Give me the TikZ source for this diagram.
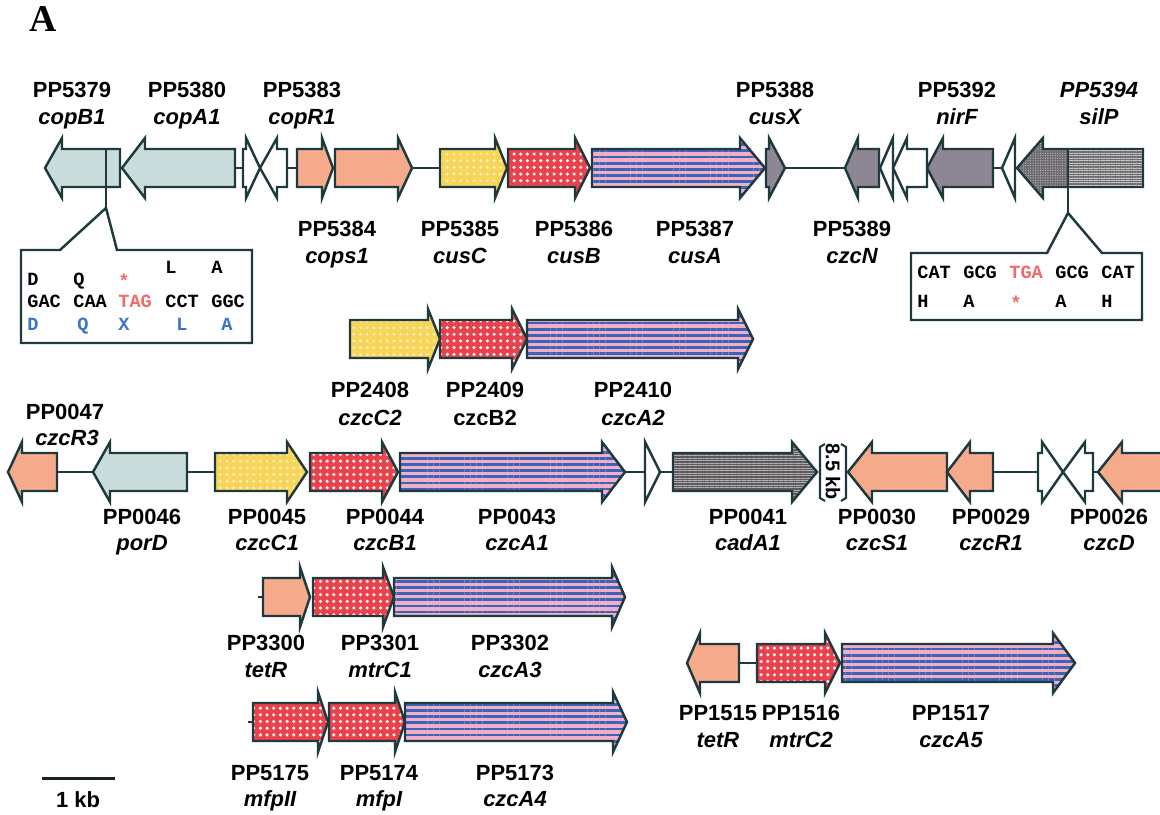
\documentclass[tikz,border=0pt]{standalone}
\usepackage{fontspec}
\setmainfont{Liberation Sans}
\newfontfamily\monof{Liberation Mono}
\newfontfamily\seriff{Liberation Serif}
\usetikzlibrary{patterns.meta}
\definecolor{edgec}{HTML}{1E3A3E}
\definecolor{gred}{HTML}{E8424C}
\definecolor{gyel}{HTML}{F7D55A}
\definecolor{gblue}{HTML}{3A64B6}
\definecolor{gpink}{HTML}{F2AEC6}
\definecolor{glb}{HTML}{C9DCDC}
\definecolor{gsal}{HTML}{F5AA8C}
\definecolor{ggray}{HTML}{8C8792}
\definecolor{gdark}{HTML}{5E5A5E}
\definecolor{redtxt}{HTML}{F06A6A}
\definecolor{bluetxt}{HTML}{3C72C8}
\tikzset{
  genebox/.style={draw=edgec, line width=1.4pt, line join=miter},
  lb/.style={genebox, fill=glb},
  sal/.style={genebox, fill=gsal},
  wht/.style={genebox, fill=white},
  gry/.style={genebox, fill=ggray},
  yel/.style={genebox, preaction={fill=gyel}, pattern={Dots[radius=0.9pt,distance=3.8pt]}, pattern color=white!60!gyel},
  red/.style={genebox, preaction={fill=gred}, pattern={Dots[radius=1.0pt,distance=3.8pt]}, pattern color=white!92!gred},
  blu/.style={genebox, preaction={fill=gpink}, pattern={Lines[angle=0,distance=3.5pt,line width=1.6pt]}, pattern color=gblue},
  hatch/.style={genebox, preaction={fill=gdark}, pattern={Lines[angle=0,distance=1.4pt,line width=0.5pt]}, pattern color=gray!60},
  dotty/.style={genebox, preaction={fill=gdark!90}, pattern={Dots[radius=0.35pt,distance=1.4pt]}, pattern color=gray!50},
  link/.style={draw=edgec, line width=1.1pt},
  idl/.style={font=\fontsize{12.5}{15}\selectfont\bfseries, anchor=base, inner sep=0pt},
  nml/.style={font=\fontsize{12.5}{15}\selectfont\bfseries\itshape, anchor=base, inner sep=0pt},
  cod/.style={font=\monof\fontsize{10.6}{12}\selectfont\bfseries, anchor=base west, inner sep=0pt},
  box/.style={draw=edgec, line width=1.4pt, fill=white, line join=miter}
}
% #1 style, #2 tail x, #3 head base x, #4 tip x, #5 centre y
\newcommand\gene[5]{\path[#1] (#2,#5-19) -- (#3,#5-19) -- (#3,#5-30) -- (#4,#5) -- (#3,#5+30) -- (#3,#5+19) -- (#2,#5+19) -- cycle;}
\begin{document}
\begin{tikzpicture}[x=0.02cm,y=-0.02cm]
\useasboundingbox (0,0) rectangle (1160,815);
\clip (0,0) rectangle (1160,815);
\fill[white] (0,0) rectangle (1160,815);

\node[font=\seriff\fontsize{21.5}{24}\selectfont\bfseries, inner sep=0pt] (panel) at (43,19) {A};

% ---------------- row 1 ----------------
\draw[link] (235,168) -- (245,168) (285,168) -- (297,168) (410,168) -- (440,168) (783,168) -- (847,168) (991,168) -- (1003,168);
\gene{lb}{120}{62}{45}{168}
\gene{lb}{235}{145}{122}{168}
\gene{wht}{243}{246}{260}{168}
\gene{wht}{287}{277}{260}{168}
\gene{sal}{297}{322}{333}{168}
\gene{sal}{335}{398}{412}{168}
\gene{yel}{440}{495}{507}{168}
\gene{red}{508}{575}{590}{168}
\gene{blu}{592}{740}{765}{168}
\gene{gry}{766}{769}{785}{168}
\gene{gry}{879}{858}{845}{168}
\gene{wht}{893}{893}{880}{168}
\gene{wht}{927}{907}{893}{168}
\gene{gry}{993}{943}{927}{168}
\gene{wht}{1015}{1015}{1002}{168}
\gene{dotty}{1143}{1043}{1017}{168}
\path[pattern={Lines[angle=0,distance=1.4pt,line width=0.45pt]}, pattern color=gray!45] (1068,149) rectangle (1143,187);
\draw[genebox] (1143,149) -- (1043,149) (1143,187) -- (1043,187) (1143,149) -- (1143,187);

% left inset
\draw[link, line width=1.4pt] (106,149) -- (106,208);
\path[box] (21,250) -- (60,250) -- (106,208) -- (117,250) -- (252,250) -- (252,343) -- (21,343) -- cycle;
\node[cod] (l1) at (165,273) {L};
\node[cod] (l2) at (211,273) {A};
\node[cod] (d1) at (27,285) {D};
\node[cod] (q1) at (73,285) {Q};
\node[cod, text=redtxt, anchor=base] (s1) at (124,287) {*};
\node[cod] (c1) at (27,307) {GAC};
\node[cod] (c2) at (73,307) {CAA};
\node[cod, text=redtxt] (c3) at (118,307) {TAG};
\node[cod] (c4) at (165,307) {CCT};
\node[cod] (c5) at (211,307) {GGC};
\node[cod, text=bluetxt] (b1) at (27,330) {D};
\node[cod, text=bluetxt] (b2) at (77,330) {Q};
\node[cod, text=bluetxt, anchor=base] (b3) at (124,330) {X};
\node[cod, text=bluetxt, anchor=base] (b4) at (182,330) {L};
\node[cod, text=bluetxt, anchor=base] (b5) at (227,330) {A};

% right inset
\draw[link, line width=1.4pt] (1068,149) -- (1068,213);
\path[box] (911,253) -- (1047,253) -- (1068,213) -- (1102,253) -- (1142,253) -- (1142,320) -- (911,320) -- cycle;
\node[cod] (r1) at (917,278) {CAT};
\node[cod] (r2) at (963,278) {GCG};
\node[cod, text=redtxt] (r3) at (1009,278) {TGA};
\node[cod] (r4) at (1055,278) {GCG};
\node[cod] (r5) at (1101,278) {CAT};
\node[cod] (h1) at (917,307) {H};
\node[cod] (h2) at (963,307) {A};
\node[cod, text=redtxt, anchor=base] (h3) at (1016,309) {*};
\node[cod] (h4) at (1055,307) {A};
\node[cod] (h5) at (1101,307) {H};

% row 1 labels
\node[idl] (t1) at (72,97) {PP5379};   \node[nml] (t1n) at (72,124) {copB1};
\node[idl] (t2) at (187,97) {PP5380};  \node[nml] (t2n) at (187,124) {copA1};
\node[idl] (t3) at (302,97) {PP5383};  \node[nml] (t3n) at (302,124) {copR1};
\node[idl] (t4) at (775,97) {PP5388};  \node[nml] (t4n) at (775,124) {cusX};
\node[idl] (t5) at (957,97) {PP5392};  \node[nml] (t5n) at (957,124) {nirF};
\node[nml] (t6) at (1099,97) {PP5394}; \node[nml] (t6n) at (1099,124) {silP};
\node[idl] (u1) at (337,236) {PP5384}; \node[nml] (u1n) at (337,263) {cops1};
\node[idl] (u2) at (460,236) {PP5385}; \node[nml] (u2n) at (460,263) {cusC};
\node[idl] (u3) at (574,236) {PP5386}; \node[nml] (u3n) at (574,263) {cusB};
\node[idl] (u4) at (695,236) {PP5387}; \node[nml] (u4n) at (695,263) {cusA};
\node[idl] (u5) at (852,236) {PP5389}; \node[nml] (u5n) at (852,263) {czcN};

% ---------------- row 2 ----------------
\gene{yel}{350}{428}{440}{339}
\gene{red}{440}{512}{527}{339}
\gene{blu}{527}{738}{753}{339}
\node[idl] (v1) at (370,397) {PP2408}; \node[nml] (v1n) at (370,425) {czcC2};
\node[idl] (v2) at (485,397) {PP2409}; \node[idl] (v2n) at (485,425) {czcB2};
\node[idl] (v3) at (633,397) {PP2410}; \node[nml] (v3n) at (633,425) {czcA2};

% ---------------- row 3 ----------------
\draw[link] (57,472) -- (93,472) (187,472) -- (215,472) (625,472) -- (645,472) (660,472) -- (673,472) (993,472) -- (1038,472) (1093,472) -- (1098,472);
\gene{sal}{57}{22}{8}{472}
\gene{lb}{187}{110}{93}{472}
\gene{yel}{215}{287}{307}{472}
\gene{red}{310}{382}{398}{472}
\gene{blu}{400}{602}{625}{472}
\gene{wht}{645}{645}{660}{472}
\gene{hatch}{673}{792}{817}{472}
\gene{sal}{947}{872}{848}{472}
\gene{sal}{993}{970}{947}{472}
\gene{wht}{1038}{1042}{1063}{472}
\gene{wht}{1093}{1085}{1063}{472}
\gene{sal}{1180}{1122}{1098}{472}
% 8.5 kb bracket
\draw[link, line width=1.2pt] (825,444) -- (820,447) -- (820,498) -- (825,501);
\draw[link, line width=1.2pt] (841,444) -- (846,447) -- (846,498) -- (841,501);
\node[font=\fontsize{11.3}{13}\selectfont\bfseries, rotate=-90, inner sep=0pt] (kb) at (833,472) {8.5 kb};

\node[idl] (w0) at (65,419) {PP0047}; \node[nml] (w0n) at (67,445) {czcR3};
\node[idl] (w1) at (142,524) {PP0046}; \node[nml] (w1n) at (142,550) {porD};
\node[idl] (w2) at (267,524) {PP0045}; \node[nml] (w2n) at (267,550) {czcC1};
\node[idl] (w3) at (385,524) {PP0044}; \node[nml] (w3n) at (385,550) {czcB1};
\node[idl] (w4) at (517,524) {PP0043}; \node[nml] (w4n) at (517,550) {czcA1};
\node[idl] (w5) at (748,524) {PP0041}; \node[nml] (w5n) at (748,550) {cadA1};
\node[idl] (w6) at (877,524) {PP0030}; \node[nml] (w6n) at (877,550) {czcS1};
\node[idl] (w7) at (991,524) {PP0029}; \node[nml] (w7n) at (991,550) {czcR1};
\node[idl] (w8) at (1109,524) {PP0026}; \node[nml] (w8n) at (1109,550) {czcD};

% ---------------- row 4 ----------------
\draw[link] (258,597) -- (263,597);
\gene{sal}{263}{300}{310}{597}
\gene{red}{313}{383}{394}{597}
\gene{blu}{394}{612}{625}{597}
\node[idl] (x1) at (266,650) {PP3300}; \node[nml] (x1n) at (266,677) {tetR};
\node[idl] (x2) at (380,650) {PP3301}; \node[nml] (x2n) at (380,677) {mtrC1};
\node[idl] (x3) at (510,650) {PP3302}; \node[nml] (x3n) at (510,677) {czcA3};

% ---------------- row 5 ----------------
\draw[link] (248,722) -- (253,722);
\gene{red}{253}{318}{328}{722}
\gene{red}{329}{395}{405}{722}
\gene{blu}{405}{613}{627}{722}
\node[idl] (y1) at (270,780) {PP5175}; \node[nml] (y1n) at (270,806) {mfpII};
\node[idl] (y2) at (379,780) {PP5174}; \node[nml] (y2n) at (379,806) {mfpI};
\node[idl] (y3) at (515,780) {PP5173}; \node[nml] (y3n) at (515,806) {czcA4};

% ---------------- row 6 ----------------
\draw[link] (739,663) -- (757,663);
\gene{sal}{739}{700}{687}{663}
\gene{red}{757}{825}{840}{663}
\gene{blu}{842}{1053}{1075}{663}
\node[idl] (z1) at (718,720) {PP1515}; \node[nml] (z1n) at (718,747) {tetR};
\node[idl] (z2) at (801,720) {PP1516}; \node[nml] (z2n) at (801,747) {mtrC2};
\node[idl] (z3) at (951,720) {PP1517}; \node[nml] (z3n) at (951,747) {czcA5};

% scale bar
\coordinate (sb1) at (42,778);
\coordinate (sb2) at (115,778);
\draw[edgec!60!black, line width=1.7pt] (sb1) -- (sb2);
\node[idl] (sbl) at (78,807) {1 kb};
\end{tikzpicture}
\end{document}
